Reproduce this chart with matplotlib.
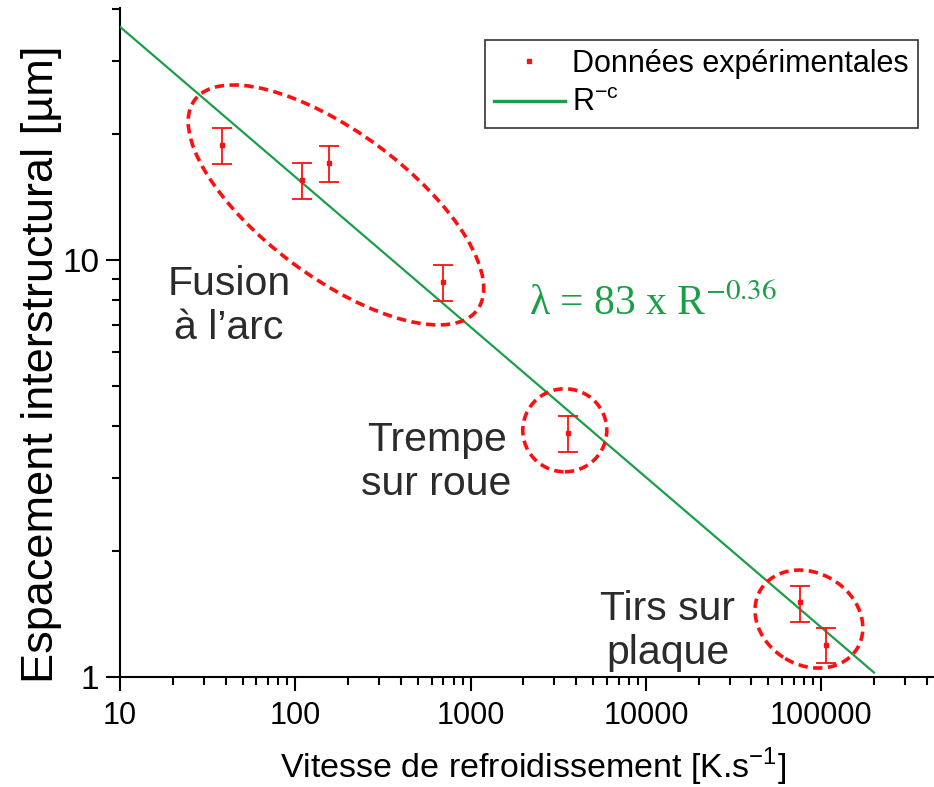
import numpy as np
import matplotlib
matplotlib.use("Agg")
from matplotlib import pyplot as plt
from matplotlib.lines import Line2D
from matplotlib.patches import Ellipse
from matplotlib.transforms import ScaledTranslation
from matplotlib.ticker import LogLocator, NullFormatter, FixedLocator, FixedFormatter

# experimental points: cooling rate R [K/s] and spacing lambda [um]
rate = [38.3, 108.8, 155.7, 698.6, 3609, 75700, 106100]
spacing = [18.87, 15.55, 17.11, 8.87, 3.853, 1.513, 1.193]
err_low = [1.91, 1.55, 1.75, 0.90, 0.396, 0.156, 0.114]
err_high = [1.83, 1.56, 1.66, 0.86, 0.377, 0.142, 0.116]

# fitted law lambda = A * R^-c
A = 83
c = 0.36
fit_range = [10, 200000]

# groups of points (centre R, centre lambda) and their labels
group_centre_rate = [170.6, 3446, 85100]
group_centre_spacing = [13.55, 3.905, 1.377]
group_names = ["Fusion\nà l’arc", "Trempe\nsur roue", "Tirs sur\nplaque"]
group_label_rate = [41.9, 640, 13300]
group_label_spacing = [7.75, 3.28, 1.29]

xticks = [10, 100, 1000, 10000, 100000]
xticklabels = ["10", "100", "1000", "10000", "100000"]
yticks = [1, 10]
yticklabels = ["1", "10"]

sans = "Liberation Sans"
serif = "Liberation Serif"

plt.rcParams["mathtext.fontset"] = "custom"
plt.rcParams["mathtext.rm"] = sans

red = "#ff1010"
green = "#1a9f48"
grey = "#2b2b2b"

fig = plt.figure(figsize=(9.34, 7.87), dpi=100)
ax = fig.add_axes([120 / 934, 110 / 787, 814 / 934, 669 / 787])
ax.set_xscale("log")
ax.set_yscale("log")
ax.set_xlim(10, 440000)
ax.set_ylim(1, 40.2)

# fit line
xf = np.array(fit_range, dtype=float)
ax.plot(xf, A * xf ** (-c), color=green, lw=1.6, zorder=3)

# data with error bars
ax.errorbar(rate, spacing, yerr=[err_low, err_high], fmt="s", ms=3.2, color=red,
            ecolor=red, elinewidth=1.3, capsize=7.5, capthick=1.3, zorder=4)

# dashed ellipses around each group (size in pixels, angle in degrees)
ell_w = [352, 84, 113]
ell_h = [145, 83, 92]
ell_ang = [-36.6, 0, -31]
for i in range(3):
    tr = fig.dpi_scale_trans + ScaledTranslation(group_centre_rate[i], group_centre_spacing[i], ax.transData)
    e = Ellipse((0, 0), ell_w[i] / 100, ell_h[i] / 100, angle=ell_ang[i], transform=tr,
                fill=False, edgecolor=red, lw=2.6, linestyle=(0, (2.6, 1.5)), zorder=5)
    ax.add_patch(e)
    ax.text(group_label_rate[i], group_label_spacing[i], group_names[i], family=sans,
            fontsize=29.5, color=grey, ha="center", va="center", linespacing=1.18)

# fitted law
eq = ax.text(2150, 7.85, "λ = 83 x R$^{\\mathrm{-0.36}}$", family=serif, fontsize=30,
             color=green, ha="left", va="center")
eq.set_math_fontfamily("stix")

# axes styling
for s in ["top", "right"]:
    ax.spines[s].set_visible(False)
for s in ["left", "bottom"]:
    ax.spines[s].set_linewidth(1.5)

ax.xaxis.set_major_locator(FixedLocator(xticks))
ax.xaxis.set_major_formatter(FixedFormatter(xticklabels))
ax.xaxis.set_minor_locator(LogLocator(base=10, subs=np.arange(2, 10)))
ax.xaxis.set_minor_formatter(NullFormatter())
ax.yaxis.set_major_locator(FixedLocator(yticks))
ax.yaxis.set_major_formatter(FixedFormatter(yticklabels))
ax.yaxis.set_minor_locator(LogLocator(base=10, subs=np.arange(2, 10)))
ax.yaxis.set_minor_formatter(NullFormatter())

ax.tick_params(which="major", direction="out", length=10, width=1.5)
ax.tick_params(which="minor", direction="out", length=6, width=1.5)
ax.tick_params(axis="x", which="major", pad=7)
ax.tick_params(axis="y", which="major", pad=5)
for t in ax.get_xticklabels():
    t.set_family(sans)
    t.set_fontsize(22)
for t in ax.get_yticklabels():
    t.set_family(sans)
    t.set_fontsize(24)

ax.set_xlabel("Vitesse de refroidissement [K.s$^{\\mathrm{-1}}$]", family=sans, fontsize=24.5)
ax.xaxis.set_label_coords(413 / 814, -69 / 669)
ax.set_ylabel("Espacement interstructural [µm]", family=sans, fontsize=32.5)
ax.yaxis.set_label_coords(-58 / 814, 313 / 669)

# legend: plain marker for the data, line for the fit
handles = [Line2D([], [], ls="none", marker="s", ms=3.5, color=red),
           Line2D([], [], color=green, lw=2.4)]
labels = ["Données expérimentales", "R$^{\\mathrm{-c}}$"]
leg = ax.legend(handles, labels, loc="upper right", bbox_to_anchor=(798 / 814, 1 - 32 / 669),
                frameon=True, fancybox=False, edgecolor="black",
                prop={"family": sans, "size": 22}, handlelength=2.3, borderpad=0.3,
                labelspacing=0.3, handletextpad=0.25, borderaxespad=0)
leg.get_frame().set_linewidth(1.2)

fig.savefig("out.png", dpi=100)
